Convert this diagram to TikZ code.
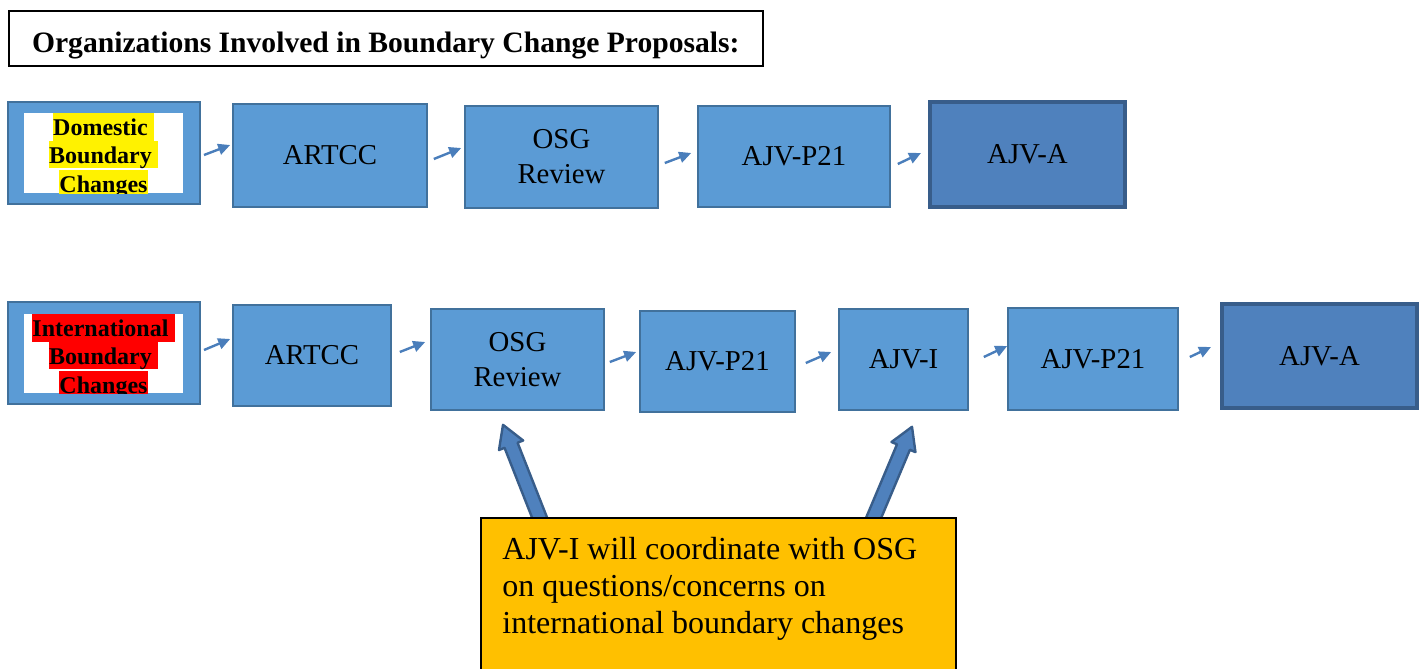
\documentclass[tikz,border=0pt]{standalone}
\usepackage{fontspec}
\setmainfont{Liberation Serif}
\usepackage{xcolor}
\usetikzlibrary{arrows.meta,calc,positioning}
\definecolor{boxblue}{HTML}{5B9BD5}
\definecolor{boxline}{HTML}{41719C}
\definecolor{endblue}{HTML}{4F81BD}
\definecolor{endline}{HTML}{385D8A}
\definecolor{arrblue}{HTML}{4A7EBB}
\definecolor{noteorange}{HTML}{FFC000}
\tikzset{%
	org/.style      = {draw=boxline, fill=boxblue, line width=0.8pt, inner sep=0pt, align=center, font=\fontsize{14.4}{17.5}\selectfont},
	final/.style    = {org, draw=endline, fill=endblue, line width=2pt},
	source/.style   = {draw=boxline, fill=boxblue, line width=1pt, inner sep=0pt},
	whitebox/.style = {fill=white, inner sep=0pt},
	hilite/.style   = {inner sep=0pt, anchor=north, align=center, font=\bfseries\fontsize{12}{13.75}\selectfont},
	flow/.style     = {draw=arrblue, line width=1.2pt, -{Triangle[length=6pt,width=5.5pt]}},
	bigarr/.style   = {draw=endline, fill=endblue, line width=1.2pt, line join=round},
	notebox/.style  = {draw, fill=noteorange, line width=0.8pt, anchor=north west, inner sep=0pt},
}
\setlength{\fboxsep}{0pt}
\newcommand{\hlmark}[2]{\colorbox{#1}{\rule[-2.5pt]{0pt}{13.75pt}#2}}
% block arrow: tail, tip
\newcommand{\bigarrow}[2]{%
	\coordinate (hb) at ($(#2)!11pt!(#1)$);
	\filldraw[bigarr] ($(#1)!3.5pt!90:(#2)$) -- ($(hb)!3.5pt!90:(#2)$) -- ($(hb)!6.5pt!90:(#2)$) -- (#2)
		-- ($(hb)!6.5pt!-90:(#2)$) -- ($(hb)!3.5pt!-90:(#2)$) -- ($(#1)!3.5pt!-90:(#2)$) -- cycle;
}

\begin{document}
\begin{tikzpicture}[x=0.5pt,y=-0.5pt]
	\useasboundingbox (0,0) rectangle (1424,669);
	\node[draw, line width=0.8pt, anchor=west, minimum width=377pt, minimum height=27.5pt, inner xsep=11pt, text height=13.5pt, text depth=0pt, font=\bfseries\fontsize{14.8}{17}\selectfont] (title) at (8,38.5) {Organizations Involved in Boundary Change Proposals:};

	% domestic row
	\node[source, minimum width=96pt, minimum height=51pt] (dom) at (104,153) {};
	\node[whitebox, minimum width=79.5pt, minimum height=40pt] (dom in) at (103.5,153) {};
	\begin{scope}
		\clip (dom in.south west) rectangle (dom in.north east);
		\node[hilite] (dom txt) at (dom in.north) {\hlmark{yellow}{Domestic\ }\\\hlmark{yellow}{Boundary\ }\\\hlmark{yellow}{Changes}};
	\end{scope}
	\node[org, minimum width=97pt, minimum height=51.5pt] (art1) at (330,155.5) {ARTCC};
	\node[org, minimum width=96.5pt, minimum height=51pt] (osg1) at (561.5,157) {OSG\\Review};
	\node[org, minimum width=96pt, minimum height=50.5pt] (p21a) at (794,156.5) {AJV-P21};
	\node[final, minimum width=97.5pt, minimum height=52.5pt] (ajva1) at (1027.5,154.5) {AJV-A};

	% international row
	\node[source, minimum width=96pt, minimum height=51pt] (intl) at (104,353) {};
	\node[whitebox, minimum width=79.5pt, minimum height=39.5pt] (intl in) at (103.5,353.5) {};
	\begin{scope}
		\clip (intl in.south west) rectangle (intl in.north east);
		\node[hilite] (intl txt) at (intl in.north) {\hlmark{red}{International\ }\\\hlmark{red}{Boundary\ }\\\hlmark{red}{Changes}};
	\end{scope}
	\node[org, minimum width=79pt, minimum height=50.5pt] (art2) at (312,355.5) {ARTCC};
	\node[org, minimum width=86.5pt, minimum height=50.5pt] (osg2) at (517.5,359.5) {OSG\\Review};
	\node[org, minimum width=77.5pt, minimum height=50.5pt] (p21b) at (717.5,361.5) {AJV-P21};
	\node[org, minimum width=64.5pt, minimum height=50.5pt] (ajvi) at (903.5,359.5) {AJV-I};
	\node[org, minimum width=85pt, minimum height=51pt] (p21c) at (1093,359) {AJV-P21};
	\node[final, minimum width=97.5pt, minimum height=52pt] (ajva2) at (1319.5,356) {AJV-A};

	% small flow arrows in the gaps
	\foreach \a/\sa/\b/\sb in {dom/{3,2}/art1/{-2,-10.5}, art1/{6,3.5}/osg1/{-3,-9}, osg1/{6,6}/p21a/{-6,-3.5}, p21a/{7,7.5}/ajva1/{-7,-1.5},
		intl/{3,-3}/art2/{-2,-16.5}, art2/{8,-3.5}/osg2/{-5,-17.5}, osg2/{5,2.5}/p21b/{-3,-9.5}, p21b/{10,1.5}/ajvi/{-7,-7.5},
		ajvi/{15,-2.5}/p21c/{0,-13}, p21c/{11,-2}/ajva2/{-9,-9}}
		\draw[flow] ([shift={(\sa)}]\a.east) -- ([shift={(\sb)}]\b.west);

	% block arrows, tails hidden under the note
	\coordinate (tail1) at ([shift={(26.5,118)}]osg2.south);
	\coordinate (tip1) at ([shift={(-14.5,14)}]osg2.south);
	\coordinate (tail2) at ([shift={(-34.5,118)}]ajvi.south);
	\coordinate (tip2) at ([shift={(8.5,16)}]ajvi.south);
	\bigarrow{tail1}{tip1}
	\bigarrow{tail2}{tip2}

	\node[notebox, minimum width=237.5pt, minimum height=95pt] (note) at (480,517) {};
	\node[anchor=north west, inner xsep=11pt, inner ysep=9.8pt, align=left, font=\fontsize{16}{18.5}\selectfont] (note txt) at (note.north west) {AJV-I will coordinate with OSG\\on questions/concerns on\\international boundary changes};
\end{tikzpicture}
\end{document}
